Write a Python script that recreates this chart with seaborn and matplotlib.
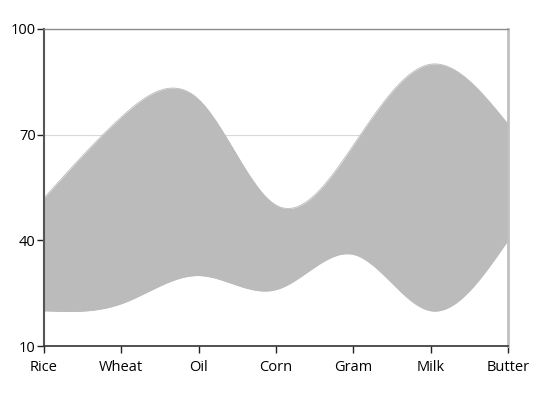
import numpy as np
import pandas as pd
import matplotlib
matplotlib.use("Agg")
import matplotlib.pyplot as plt
import seaborn as sns

categories = ["Rice", "Wheat", "Oil", "Corn", "Gram", "Milk", "Butter"]
high = [52, 75, 80, 50, 67, 90, 73]
low = [20, 22, 30, 26, 36, 20, 40]


def natural_spline(x, y, xs):
    # natural cubic spline, same as the smooth range area in the source chart
    x = np.asarray(x, float)
    y = np.asarray(y, float)
    n = len(x)
    h = np.diff(x)
    A = np.zeros((n, n))
    r = np.zeros(n)
    A[0, 0] = A[-1, -1] = 1
    for i in range(1, n - 1):
        A[i, i - 1] = h[i - 1]
        A[i, i] = 2 * (h[i - 1] + h[i])
        A[i, i + 1] = h[i]
        r[i] = 6 * ((y[i + 1] - y[i]) / h[i] - (y[i] - y[i - 1]) / h[i - 1])
    m = np.linalg.solve(A, r)
    idx = np.clip(np.searchsorted(x, xs) - 1, 0, n - 2)
    t0 = x[idx]
    t1 = x[idx + 1]
    hh = t1 - t0
    a = (t1 - xs) / hh
    b = (xs - t0) / hh
    return (a * y[idx] + b * y[idx + 1]
            + ((a ** 3 - a) * m[idx] + (b ** 3 - b) * m[idx + 1]) * hh ** 2 / 6)


sns.set_style("white")
plt.rcParams["font.family"] = ["Open Sans", "DejaVu Sans"]

pos = np.arange(len(categories))
xs = np.linspace(0, len(categories) - 1, 600)
df = pd.DataFrame({"x": xs,
                   "high": natural_spline(pos, high, xs),
                   "low": natural_spline(pos, low, xs)})

fig = plt.figure(figsize=(5.38, 3.95), dpi=100)
ax = fig.add_axes([44 / 538, 49 / 395, 464 / 538, 317 / 395])

ax.fill_between(df["x"], df["low"], df["high"], color="#bbbbbb", lw=0, zorder=2)
sns.lineplot(data=df, x="x", y="high", color="#bbbbbb", lw=0.6, ax=ax, zorder=2)
sns.lineplot(data=df, x="x", y="low", color="#bbbbbb", lw=0.6, ax=ax, zorder=2)

ax.set_xlim(0, len(categories) - 1)
ax.set_ylim(10, 100)
ax.set_xticks(pos)
ax.set_xticklabels(categories)
ax.set_yticks([10, 40, 70, 100])
ax.set_xlabel("")
ax.set_ylabel("")
ax.grid(axis="y", color="#d9d9d9", lw=0.8, zorder=0)

ax.spines["top"].set_color("#8c8c8c")
ax.spines["top"].set_linewidth(1)
ax.spines["right"].set_color("#c0c0c0")
ax.spines["right"].set_linewidth(2)
ax.spines["left"].set_color("#555555")
ax.spines["left"].set_linewidth(1.5)
ax.spines["bottom"].set_color("#333333")
ax.spines["bottom"].set_linewidth(1.2)
ax.tick_params(axis="both", direction="out", length=5, width=1, color="#222222",
               labelsize=10.5, labelcolor="#000000", bottom=True, left=True)
ax.tick_params(axis="x", pad=5)
ax.tick_params(axis="y", pad=1)

plt.savefig("out.png", dpi=100)
plt.close()
